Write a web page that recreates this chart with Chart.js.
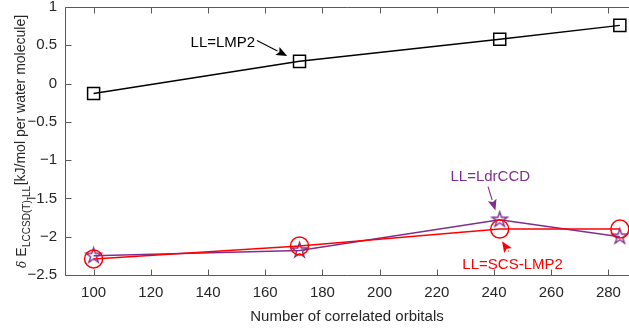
<!DOCTYPE html>
<html><head><meta charset="utf-8">
<script src="https://cdn.jsdelivr.net/npm/chart.js@4.4.0/dist/chart.umd.min.js"></script>
<style>html,body{margin:0;padding:0;background:#fff;} canvas{display:block;}</style>
</head><body>
<canvas id="c" width="629" height="330"></canvas>
<script>
// ---- data ----
const orbitals = [100, 172, 242, 284];
const lmp2     = [-0.13, 0.29, 0.58, 0.76];
const scsLmp2  = [-2.29, -2.12, -1.90, -1.90];
const ldrccd   = [-2.25, -2.18, -1.78, -2.00];
const xTicks = [100, 120, 140, 160, 180, 200, 220, 240, 260, 280];
const yTicks = [-2.5, -2, -1.5, -1, -0.5, 0, 0.5, 1];
const xRange = [90, 287.2];
const yRange = [-2.5, 1];
const xTitle = 'Number of correlated orbitals';
const yLabelParts = { delta: 'δ', main: 'E', sub: 'LCCSD(T)-LL', unit: '[kJ/mol per water molecule]' };
const annotations = [
  { text: 'LL=LMP2',     color: '#000000', x: 145.2, y: 0.483,  from: [157.1, 0.561],  to: [167.7, 0.359] },
  { text: 'LL=LdrCCD',   color: '#7E2F8E', x: 238.7, y: -1.275, from: [237.9, -1.345], to: [240.5, -1.658] },
  { text: 'LL=SCS-LMP2', color: '#FF0000', x: 246.5, y: -2.428, from: [245.1, -2.193], to: [242.8, -2.059] }
];

const TXT = '#262626';
const AX = '#5a5a5a';
const FONT = '"Liberation Sans", Arial, Helvetica, sans-serif';

function makeStar(color, R, lw) {
  const s = Math.ceil(R * 2 + lw * 2 + 2);
  const c = document.createElement('canvas');
  c.width = s; c.height = s;
  const g = c.getContext('2d');
  g.translate(s / 2, s / 2);
  const r = R * 0.382;
  g.beginPath();
  for (let i = 0; i < 10; i++) {
    const rad = i % 2 === 0 ? R : r;
    const a = -Math.PI / 2 + i * Math.PI / 5;
    const px = rad * Math.cos(a), py = rad * Math.sin(a);
    if (i === 0) g.moveTo(px, py); else g.lineTo(px, py);
  }
  g.closePath();
  g.strokeStyle = color; g.lineWidth = lw; g.lineJoin = 'miter';
  g.stroke();
  return c;
}
const starImg = makeStar('#7E2F8E', 8, 1.4);

const pts = (ys) => orbitals.map((x, i) => ({ x, y: ys[i] }));
const fmt = v => String(v).replace('-', '\u2212');

const framePlugin = {
  id: 'frame',
  beforeDatasetsDraw(chart) {
    const { ctx, chartArea: a, scales } = chart;
    ctx.save();
    ctx.strokeStyle = AX; ctx.lineWidth = 1;
    const L = Math.round(a.left) + 0.5, T = Math.round(a.top) + 0.5, B = Math.round(a.bottom) + 0.5, R = a.right + 2;
    ctx.beginPath();
    ctx.moveTo(R, T); ctx.lineTo(L, T); ctx.lineTo(L, B); ctx.lineTo(R, B);
    const tl = 6;
    xTicks.forEach(v => {
      const px = Math.round(scales.x.getPixelForValue(v)) + 0.5;
      ctx.moveTo(px, B); ctx.lineTo(px, B - tl);
      ctx.moveTo(px, T); ctx.lineTo(px, T + tl);
    });
    yTicks.forEach(v => {
      const py = Math.round(scales.y.getPixelForValue(v)) + 0.5;
      ctx.moveTo(L, py); ctx.lineTo(L + tl, py);
    });
    ctx.stroke();
    ctx.restore();
  }
};

function arrow(ctx, x1, y1, x2, y2, color) {
  const ang = Math.atan2(y2 - y1, x2 - x1);
  const hl = 11, hw = 4.5;
  ctx.save();
  ctx.strokeStyle = color; ctx.fillStyle = color; ctx.lineWidth = 1.1;
  ctx.beginPath();
  ctx.moveTo(x1, y1);
  ctx.lineTo(x2 - hl * Math.cos(ang), y2 - hl * Math.sin(ang));
  ctx.stroke();
  ctx.beginPath();
  ctx.moveTo(x2, y2);
  ctx.lineTo(x2 - hl * Math.cos(ang) + hw * Math.sin(ang), y2 - hl * Math.sin(ang) - hw * Math.cos(ang));
  ctx.lineTo(x2 - hl * 0.8 * Math.cos(ang), y2 - hl * 0.8 * Math.sin(ang));
  ctx.lineTo(x2 - hl * Math.cos(ang) - hw * Math.sin(ang), y2 - hl * Math.sin(ang) + hw * Math.cos(ang));
  ctx.closePath();
  ctx.fill();
  ctx.restore();
}

const annotPlugin = {
  id: 'annot',
  afterDraw(chart) {
    const { ctx, scales } = chart;
    const X = v => scales.x.getPixelForValue(v), Y = v => scales.y.getPixelForValue(v);
    annotations.forEach(an => {
      ctx.save();
      ctx.font = '15px ' + FONT;
      ctx.fillStyle = an.color;
      ctx.textAlign = 'center'; ctx.textBaseline = 'alphabetic';
      ctx.fillText(an.text, X(an.x), Y(an.y));
      ctx.restore();
      arrow(ctx, X(an.from[0]), Y(an.from[1]), X(an.to[0]), Y(an.to[1]), an.color);
    });
  }
};

const yLabelPlugin = {
  id: 'ylabel',
  afterDraw(chart) {
    const { ctx } = chart;
    ctx.save();
    ctx.translate(26, 268);
    ctx.rotate(-Math.PI / 2);
    ctx.fillStyle = TXT;
    ctx.textBaseline = 'alphabetic'; ctx.textAlign = 'left';
    let pos = 0;
    ctx.font = 'italic 12px "DejaVu Serif", serif';
    ctx.fillText(yLabelParts.delta, pos, 0);
    pos += ctx.measureText(yLabelParts.delta).width + 4;
    ctx.font = '14px ' + FONT;
    ctx.fillText(yLabelParts.main, pos, 0);
    pos += ctx.measureText(yLabelParts.main).width + 0.5;
    ctx.font = '10px ' + FONT;
    ctx.fillText(yLabelParts.sub, pos, 4);
    pos += ctx.measureText(yLabelParts.sub).width + 0.5;
    ctx.font = '14px ' + FONT;
    ctx.fillText(yLabelParts.unit, pos, -1);
    ctx.restore();
  }
};

new Chart(document.getElementById('c'), {
  type: 'line',
  data: {
    datasets: [
      { label: 'LMP2', data: pts(lmp2), borderColor: '#000000', borderWidth: 1.5, pointStyle: 'rect', pointRadius: 8.5, pointBorderWidth: 1.5, pointBorderColor: '#000000', pointBackgroundColor: 'rgba(0,0,0,0)', tension: 0, clip: false },
      { label: 'SCS-LMP2', data: pts(scsLmp2), borderColor: '#FF0000', borderWidth: 1.5, pointStyle: 'circle', pointRadius: 9, pointBorderWidth: 1.5, pointBorderColor: '#FF0000', pointBackgroundColor: 'rgba(0,0,0,0)', tension: 0, clip: false },
      { label: 'LdrCCD', data: pts(ldrccd), borderColor: '#7E2F8E', borderWidth: 1.5, pointStyle: starImg, pointRadius: 8, tension: 0, clip: false }
    ]
  },
  options: {
    responsive: false,
    animation: false,
    devicePixelRatio: 1,
    layout: { autoPadding: false, padding: { top: 7, right: 0, left: 0, bottom: 0 } },
    plugins: { legend: { display: false }, tooltip: { enabled: false } },
    scales: {
      x: {
        type: 'linear', min: xRange[0], max: xRange[1],
        grid: { display: false, drawTicks: false },
        border: { display: false },
        afterBuildTicks: s => { s.ticks = xTicks.map(v => ({ value: v })); },
        afterFit: s => { s.height = 55; s.paddingLeft = 0; s.paddingRight = 0; },
        ticks: { color: TXT, font: { family: FONT, size: 15, lineHeight: 1 }, padding: 10, maxRotation: 0, autoSkip: false, callback: v => fmt(v) },
        title: { display: true, text: xTitle, color: TXT, font: { family: FONT, size: 15, lineHeight: 1.2 }, padding: { top: 0, bottom: 4 } }
      },
      y: {
        type: 'linear', min: yRange[0], max: yRange[1],
        grid: { display: false, drawTicks: false },
        border: { display: false },
        afterBuildTicks: s => { s.ticks = yTicks.map(v => ({ value: v })); },
        afterFit: s => { s.width = 65; s.paddingTop = 0; s.paddingBottom = 0; },
        ticks: { color: TXT, font: { family: FONT, size: 15, lineHeight: 1 }, padding: 8, autoSkip: false, callback: v => fmt(v) }
      }
    }
  },
  plugins: [framePlugin, annotPlugin, yLabelPlugin]
});
</script>
</body></html>
